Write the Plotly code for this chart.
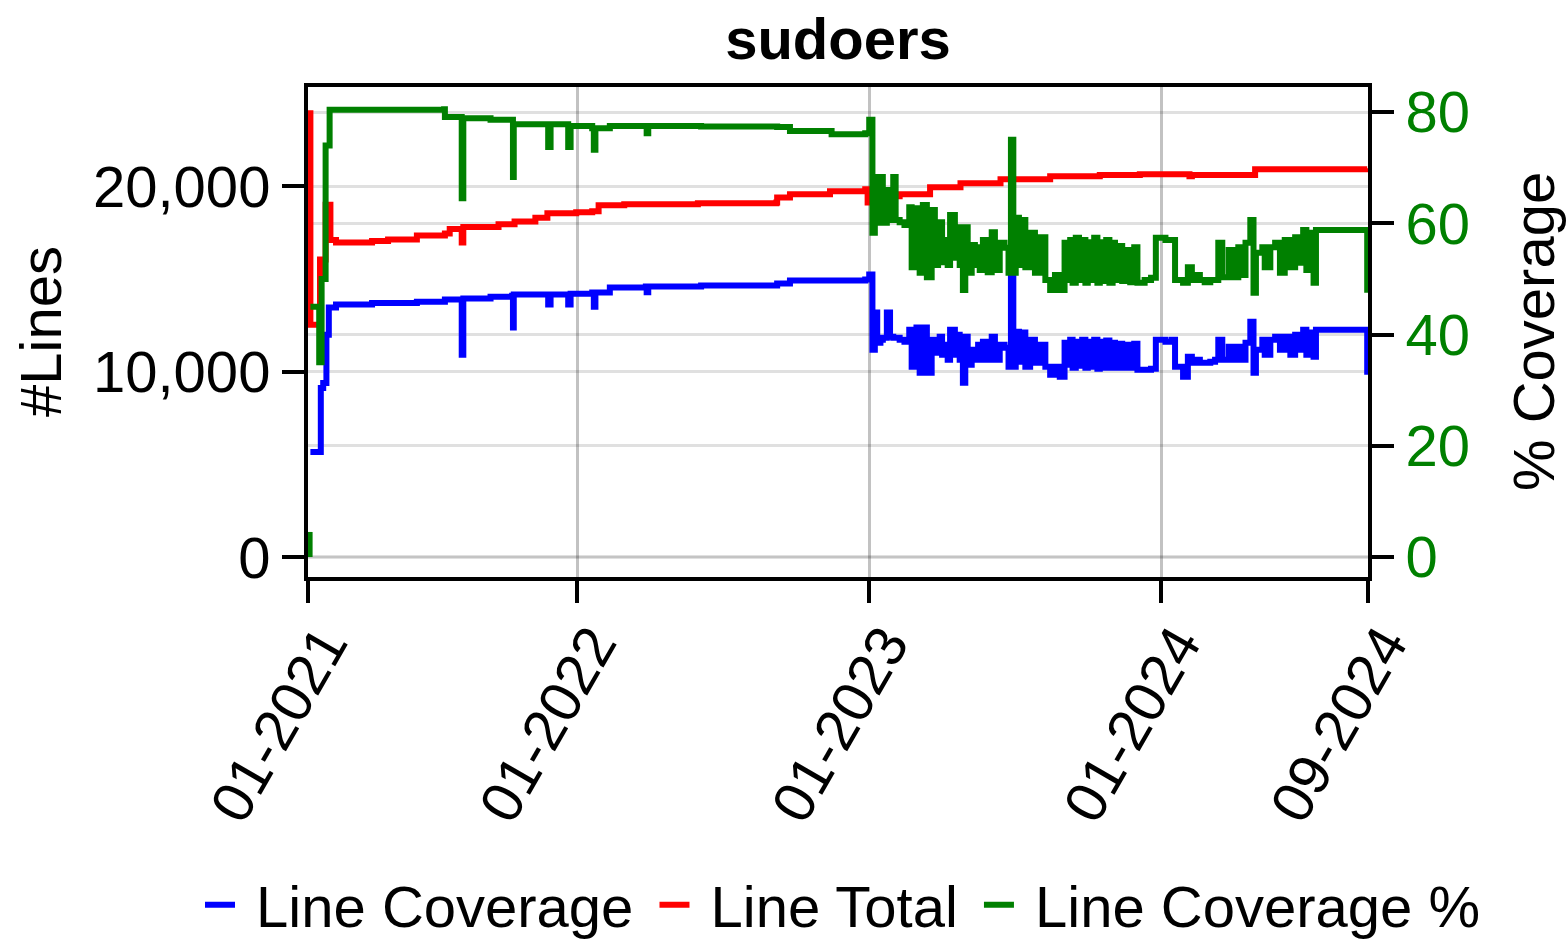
import plotly.graph_objects as go

# ---------------- data ----------------
total_dates = ["2021-02-02", "2021-02-02", "2021-02-11", "2021-02-14", "2021-02-21", "2021-02-27",
               "2021-03-06", "2021-04-20", "2021-05-10", "2021-06-15", "2021-07-20", "2021-07-26",
               "2021-08-08", "2021-08-10", "2021-08-12", "2021-09-10", "2021-09-25", "2021-10-15",
               "2021-11-10", "2021-11-25", "2021-12-31", "2022-01-20", "2022-01-28", "2022-03-01",
               "2022-06-01", "2022-09-07", "2022-09-08", "2022-09-24", "2022-11-13", "2022-12-27",
               "2022-12-30", "2023-01-05", "2023-02-08", "2023-03-18", "2023-04-25", "2023-06-14",
               "2023-08-15", "2023-10-16", "2023-12-05", "2024-02-05", "2024-02-08", "2024-04-21",
               "2024-04-27", "2024-09-14"]
total_vals = [24100, 12540, 12540, 16050, 19000, 17100,
              16970, 17050, 17130, 17350, 17450, 17700,
              17700, 16970, 17800, 17800, 17950, 18100,
              18300, 18540, 18600, 18650, 18970, 19030,
              19080, 19130, 19400, 19570, 19730, 19840,
              19130, 19460, 19570, 19950, 20160, 20380,
              20540, 20600, 20650, 20540, 20600, 20600,
              20920, 20970]

early_cov_dates = ["2021-02-02", "2021-02-14", "2021-02-15", "2021-02-18", "2021-02-22", "2021-02-25",
                   "2021-03-06", "2021-04-20", "2021-06-15", "2021-07-20", "2021-08-09", "2021-08-10",
                   "2021-08-12", "2021-09-15", "2021-10-12", "2021-10-13", "2021-10-14", "2021-11-25",
                   "2021-11-26", "2021-11-29", "2021-12-20", "2021-12-21", "2021-12-24", "2022-01-20",
                   "2022-01-22", "2022-01-24", "2022-02-11", "2022-03-28", "2022-03-29", "2022-03-31",
                   "2022-06-05", "2022-09-08", "2022-09-24", "2022-11-15"]
early_cov_vals = [5675, 5675, 9130, 9400, 12000, 13460,
                  13620, 13700, 13780, 13890, 13890, 10920,
                  13950, 14050, 14100, 12380, 14160, 14160,
                  13620, 14160, 14160, 13620, 14210, 14270,
                  13510, 14270, 14540, 14600, 14280, 14600,
                  14650, 14760, 14920, 14920]

early_pct_dates = ["2021-02-01", "2021-02-01", "2021-02-02", "2021-02-02", "2021-02-12", "2021-02-13",
                   "2021-02-16", "2021-02-21", "2021-02-26", "2021-07-19", "2021-07-20", "2021-08-09",
                   "2021-08-10", "2021-08-12", "2021-09-15", "2021-10-12", "2021-10-13", "2021-10-14",
                   "2021-11-25", "2021-11-26", "2021-11-29", "2021-12-20", "2021-12-21", "2021-12-24",
                   "2022-01-20", "2022-01-22", "2022-01-24", "2022-02-11", "2022-03-28", "2022-03-29",
                   "2022-03-31", "2022-06-05", "2022-09-08", "2022-09-24", "2022-11-15"]
early_pct_vals = [0.0, 4.5, None, 45.0, 45.0, 35.0,
                  50.0, 74.0, 80.4, 80.5, 79.1, 79.1,
                  64.5, 78.9, 78.6, 78.6, 68.3, 77.8,
                  77.8, 73.7, 77.8, 77.8, 73.7, 77.5,
                  77.1, 73.2, 77.1, 77.5, 77.5, 76.2,
                  77.5, 77.4, 77.3, 76.6, 76.0]

late_dates = ["2022-12-27", "2023-01-01", "2023-01-05", "2023-01-08", "2023-01-11", "2023-01-15",
              "2023-01-18", "2023-01-23", "2023-01-27", "2023-01-31", "2023-02-03", "2023-02-08",
              "2023-02-14", "2023-02-20", "2023-02-23", "2023-03-01", "2023-03-05", "2023-03-09",
              "2023-03-14", "2023-03-20", "2023-03-24", "2023-03-28", "2023-03-30", "2023-04-02",
              "2023-04-05", "2023-04-09", "2023-04-12", "2023-04-18", "2023-04-22", "2023-04-24",
              "2023-04-28", "2023-05-01", "2023-05-04", "2023-05-09", "2023-05-13", "2023-05-17",
              "2023-05-19", "2023-05-23", "2023-05-29", "2023-06-03", "2023-06-07", "2023-06-13",
              "2023-06-19", "2023-06-24", "2023-06-27", "2023-06-30", "2023-07-03", "2023-07-07",
              "2023-07-11", "2023-07-15", "2023-07-21", "2023-07-27", "2023-08-02", "2023-08-09",
              "2023-08-15", "2023-08-21", "2023-08-27", "2023-09-02", "2023-09-06", "2023-09-09",
              "2023-09-12", "2023-09-16", "2023-09-20", "2023-09-24", "2023-09-28", "2023-10-01",
              "2023-10-05", "2023-10-09", "2023-10-13", "2023-10-16", "2023-10-20", "2023-10-24",
              "2023-10-28", "2023-11-01", "2023-11-04", "2023-11-08", "2023-11-13", "2023-11-18",
              "2023-11-23", "2023-11-28", "2023-12-02", "2023-12-11", "2023-12-19", "2023-12-25",
              "2024-01-06", "2024-01-14", "2024-01-18", "2024-01-28", "2024-02-03", "2024-02-08",
              "2024-02-13", "2024-02-18", "2024-02-24", "2024-03-02", "2024-03-08", "2024-03-12",
              "2024-03-17", "2024-03-25", "2024-03-30", "2024-04-06", "2024-04-11", "2024-04-15",
              "2024-04-21", "2024-04-25", "2024-04-28", "2024-05-06", "2024-05-09", "2024-05-16",
              "2024-05-22", "2024-05-28", "2024-06-03", "2024-06-10", "2024-06-16", "2024-06-22",
              "2024-06-26", "2024-06-30", "2024-07-05", "2024-07-09", "2024-07-12", "2024-09-13",
              "2024-09-14"]
late_cov_vals = [14970, 15240, 11190, 13190, 11570, 11730,
                 11840, 13190, 11890, 11840, 11840, 11730,
                 11620, 12270, 10270, 12380, 9950, 12380,
                 9950, 11730, 11030, 11460, 11890, 10920,
                 11460, 10650, 12270, 10920, 12000, 10650,
                 9405, 11890, 10380, 11190, 10650, 11460,
                 10650, 11620, 10650, 11890, 10650, 11460,
                 11300, 10270, 15080, 10270, 12160, 10540,
                 12110, 10270, 11730, 10490, 11460, 10270,
                 9840, 10270, 9730, 11570, 10380, 11730,
                 10220, 11620, 10320, 11730, 10220, 11620,
                 10270, 11730, 10160, 11620, 10220, 11680,
                 10220, 11570, 10220, 11510, 10220, 11460,
                 10220, 11510, 10110, 10110, 10160, 11730,
                 11620, 11730, 10270, 9730, 10810, 10490,
                 10650, 10490, 10490, 10540, 10650, 11730,
                 10650, 11350, 10650, 11350, 10650, 11570,
                 12700, 9950, 11190, 11730, 10920, 11730,
                 11890, 11190, 11890, 10920, 12000, 11190,
                 12270, 10920, 12110, 10810, 12270, 12270,
                 9840]
late_pct_vals = [76.2, 78.6, 58.3, 68.3, 60.1, 68.3,
                 60.1, 66.0, 60.6, 68.3, 60.6, 60.2,
                 59.7, 62.9, 52.1, 62.7, 51.1, 63.3,
                 50.3, 62.4, 52.5, 55.2, 60.2, 53.0,
                 57.0, 52.5, 61.5, 53.8, 59.3, 52.5,
                 48.0, 59.3, 51.1, 56.1, 52.5, 55.7,
                 51.6, 57.0, 51.2, 58.4, 51.6, 56.5,
                 55.6, 51.1, 75.0, 51.1, 61.0, 52.5,
                 60.6, 52.1, 58.3, 51.1, 57.5, 49.8,
                 48.0, 50.7, 48.0, 56.5, 49.8, 57.0,
                 49.3, 57.4, 49.8, 57.0, 49.3, 56.6,
                 49.8, 57.4, 49.3, 56.6, 49.6, 57.0,
                 49.3, 56.5, 49.8, 55.9, 49.6, 55.2,
                 49.4, 55.7, 49.3, 49.8, 50.2, 57.4,
                 57.0, 57.0, 49.8, 49.3, 52.1, 49.8,
                 50.7, 49.8, 49.4, 49.8, 49.8, 56.5,
                 50.3, 55.2, 50.3, 55.7, 50.7, 56.5,
                 60.6, 47.5, 54.7, 55.7, 52.1, 55.7,
                 56.5, 51.1, 57.0, 52.1, 57.5, 52.9,
                 58.8, 51.6, 58.3, 49.3, 58.8, 58.8,
                 47.5]

x_range = ["2021-01-30", "2024-09-15"]
x_tickvals = ["2021-01-30", "2022-01-01", "2023-01-01", "2024-01-01", "2024-09-15"]
x_ticktext = ["01-2021", "01-2022", "01-2023", "01-2024", "09-2024"]
y_tickvals = [0, 10000, 20000]
y_ticktext = ["0", "10,000", "20,000"]
y2_tickvals = [0, 20, 40, 60, 80]
series_names = ["Line Coverage", "Line Total", "Line Coverage %"]

# ---------------- figure ----------------
BLUE, RED, GREEN = "#0000ff", "#ff0000", "#008000"
FONT = "Liberation Sans, Arial, Helvetica, sans-serif"
FS = 58
NB = "\u00a0"

fig = go.Figure()
fig.add_trace(go.Scatter(x=early_cov_dates + late_dates, y=early_cov_vals + late_cov_vals,
                         mode="lines", name=NB + series_names[0] + NB, yaxis="y",
                         line=dict(color=BLUE, width=6, shape="hv")))
fig.add_trace(go.Scatter(x=total_dates, y=total_vals, mode="lines",
                         name=NB + series_names[1] + NB, yaxis="y",
                         line=dict(color=RED, width=6, shape="hv")))
fig.add_trace(go.Scatter(x=early_pct_dates + late_dates, y=early_pct_vals + late_pct_vals,
                         mode="lines", name=NB + series_names[2], yaxis="y2",
                         line=dict(color=GREEN, width=6, shape="hv")))

grid = "rgba(0,0,0,0.12)"
fig.update_layout(
    width=1567, height=942,
    margin=dict(l=308, r=199, t=87, b=365, autoexpand=False),
    paper_bgcolor="white", plot_bgcolor="white",
    font=dict(family=FONT, size=FS, color="black"),
    title=dict(text="<b>sudoers</b>", x=0.5, xref="paper", xanchor="center",
               y=1 - 39 / 942, yref="container", yanchor="middle",
               font=dict(family=FONT, size=FS, color="black")),
    xaxis=dict(type="date", range=x_range, tickvals=x_tickvals, ticktext=x_ticktext,
               tickangle=-60, ticks="outside", ticklen=22, tickwidth=4, tickcolor="black",
               ticklabelstandoff=-16, ticklabelshift=16,
               showline=True, linewidth=4, linecolor="black", mirror=True,
               showgrid=True, gridcolor="rgba(0,0,0,0.24)", gridwidth=3,
               zeroline=False, automargin=False, tickfont=dict(size=FS)),
    yaxis=dict(range=[-1063, 25350], tickvals=y_tickvals, ticktext=y_ticktext,
               ticks="outside", ticklen=22, tickwidth=4, tickcolor="black",
               showline=True, linewidth=4, linecolor="black",
               showgrid=True, gridcolor=grid, gridwidth=3, zeroline=False,
               automargin=False, tickfont=dict(size=FS)),
    yaxis2=dict(range=[-3.6, 84.5], tickvals=y2_tickvals, overlaying="y", side="right",
                ticks="outside", ticklen=22, tickwidth=4, tickcolor="black",
                showline=True, linewidth=4, linecolor="black",
                showgrid=True, gridcolor=grid, gridwidth=3, zeroline=False,
                automargin=False, tickfont=dict(size=FS, color=GREEN)),
    legend=dict(orientation="h", xref="paper", yref="paper",
                x=(200 - 308) / 1060, xanchor="left", y=(577 - 905) / 490, yanchor="middle",
                font=dict(size=FS), bgcolor="rgba(0,0,0,0)", itemwidth=30),
    showlegend=True,
    annotations=[
        dict(text="#Lines", x=(40 - 308) / 1060, y=0.5, xref="paper", yref="paper",
             textangle=-90, showarrow=False, xanchor="center", yanchor="middle",
             font=dict(size=FS, color="black")),
        dict(text="% Coverage", x=(1533 - 308) / 1060, y=0.5, xref="paper", yref="paper",
             textangle=-90, showarrow=False, xanchor="center", yanchor="middle",
             font=dict(size=FS, color="black")),
    ],
)

fig.write_html("out.html")
